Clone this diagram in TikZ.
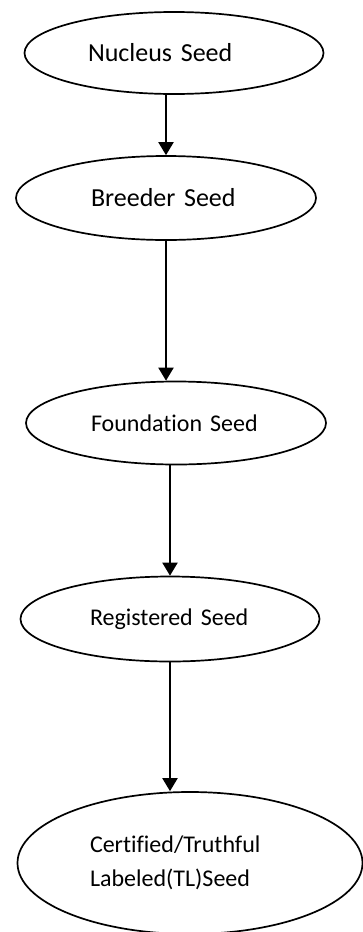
\documentclass[tikz,border=0pt]{standalone}
\usepackage{fontspec}
\setmainfont{Carlito}[Ligatures=NoCommon]
\usetikzlibrary{arrows.meta,shapes.geometric}

\begin{document}
\begin{tikzpicture}[x=1pt,y=1pt]
        % Define styles
        \tikzset{
            seed/.style={ellipse, draw, line width=1.7pt, inner sep=0pt, align=left},
            arrow/.style={-{Triangle[width=15pt,length=13pt]}, line width=2pt}
        }
        \useasboundingbox (0,0) rectangle (362,-932);

        % Nodes
        \node[seed, minimum width=299, minimum height=82, text width=172pt, font=\fontsize{26}{31}\selectfont] (nucleus) at (174,-53) {Nucleus Seed};
        \node[seed, minimum width=300, minimum height=84, text width=150pt, font=\fontsize{26}{31}\selectfont] (breeder) at (166,-198) {Breeder Seed};
        \node[seed, minimum width=300, minimum height=83, text width=170pt, font=\fontsize{24}{29}\selectfont] (foundation) at (176,-423) {Foundation Seed};
        \node[seed, minimum width=299, minimum height=85, text width=160pt, font=\fontsize{24}{29}\selectfont] (registered) at (170,-619) {Registered Seed};
        \node[seed, minimum width=345, minimum height=142, text width=200pt, font=\fontsize{24}{34}\selectfont] (certified) at (190,-863) {Certified/Truthful\\Labeled(TL)Seed};

        % Arrows
        \draw[arrow] (nucleus.south -| breeder) -- (breeder.north);
        \draw[arrow] (breeder.south) -- (foundation.north -| breeder);
        \draw[arrow] (foundation.south -| registered) -- (registered.north);
        \draw[arrow] (registered.south) -- (certified.north -| registered);
    \end{tikzpicture}
\end{document}
